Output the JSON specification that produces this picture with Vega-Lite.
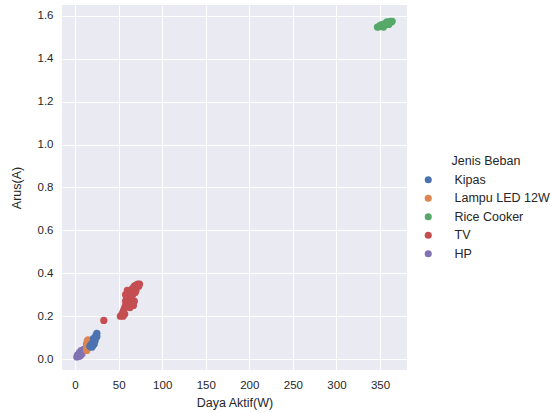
{
  "$schema": "https://vega.github.io/schema/vega-lite/v6.json",
  "width": 345,
  "height": 365,
  "autosize": "none",
  "padding": {"left": 62, "top": 5, "right": 144, "bottom": 43},
  "background": "white",
  "config": {
    "view": {"fill": "#EAEAF2", "stroke": null},
    "font": "Liberation Sans",
    "axis": {
      "domain": false, "ticks": false, "gridColor": "white", "gridWidth": 1,
      "labelColor": "#262626", "labelFontSize": 11.5, "titleColor": "#262626",
      "titleFontSize": 12.5, "titleFontWeight": "normal", "labelPadding": 9
    },
    "legend": {
      "titleFontSize": 12.5, "titleFontWeight": "normal", "titleColor": "#262626",
      "labelFontSize": 12.5, "labelColor": "#262626"
    }
  },
  "data": {"values": [
    {"w": 2, "a": 0.01, "k": "HP"}, {"w": 3, "a": 0.015, "k": "HP"}, {"w": 4, "a": 0.02, "k": "HP"},
    {"w": 5, "a": 0.02, "k": "HP"}, {"w": 6, "a": 0.025, "k": "HP"}, {"w": 7, "a": 0.03, "k": "HP"},
    {"w": 8, "a": 0.035, "k": "HP"}, {"w": 9, "a": 0.04, "k": "HP"}, {"w": 10, "a": 0.045, "k": "HP"},
    {"w": 3, "a": 0.02, "k": "HP"}, {"w": 5, "a": 0.03, "k": "HP"}, {"w": 6, "a": 0.015, "k": "HP"},
    {"w": 4, "a": 0.012, "k": "HP"}, {"w": 8, "a": 0.025, "k": "HP"}, {"w": 7, "a": 0.04, "k": "HP"},

    {"w": 13, "a": 0.05, "k": "Lampu LED 12W"}, {"w": 13.5, "a": 0.06, "k": "Lampu LED 12W"},
    {"w": 14, "a": 0.07, "k": "Lampu LED 12W"}, {"w": 14.5, "a": 0.08, "k": "Lampu LED 12W"},
    {"w": 15, "a": 0.09, "k": "Lampu LED 12W"}, {"w": 13, "a": 0.07, "k": "Lampu LED 12W"},
    {"w": 14, "a": 0.05, "k": "Lampu LED 12W"}, {"w": 15, "a": 0.06, "k": "Lampu LED 12W"},
    {"w": 14, "a": 0.085, "k": "Lampu LED 12W"}, {"w": 13.5, "a": 0.04, "k": "Lampu LED 12W"},
    {"w": 15.5, "a": 0.07, "k": "Lampu LED 12W"}, {"w": 14, "a": 0.06, "k": "Lampu LED 12W"},

    {"w": 17, "a": 0.06, "k": "Kipas"}, {"w": 18, "a": 0.065, "k": "Kipas"}, {"w": 19, "a": 0.07, "k": "Kipas"},
    {"w": 20, "a": 0.075, "k": "Kipas"}, {"w": 21, "a": 0.08, "k": "Kipas"}, {"w": 22, "a": 0.09, "k": "Kipas"},
    {"w": 23, "a": 0.1, "k": "Kipas"}, {"w": 24, "a": 0.11, "k": "Kipas"}, {"w": 25, "a": 0.12, "k": "Kipas"},
    {"w": 20, "a": 0.06, "k": "Kipas"}, {"w": 22, "a": 0.07, "k": "Kipas"}, {"w": 24, "a": 0.1, "k": "Kipas"},
    {"w": 21, "a": 0.095, "k": "Kipas"}, {"w": 23, "a": 0.085, "k": "Kipas"}, {"w": 19, "a": 0.055, "k": "Kipas"},
    {"w": 25, "a": 0.105, "k": "Kipas"},

    {"w": 347, "a": 1.548, "k": "Rice Cooker"}, {"w": 349, "a": 1.55, "k": "Rice Cooker"},
    {"w": 351, "a": 1.552, "k": "Rice Cooker"}, {"w": 353, "a": 1.555, "k": "Rice Cooker"},
    {"w": 355, "a": 1.558, "k": "Rice Cooker"}, {"w": 357, "a": 1.56, "k": "Rice Cooker"},
    {"w": 359, "a": 1.565, "k": "Rice Cooker"}, {"w": 361, "a": 1.568, "k": "Rice Cooker"},
    {"w": 363, "a": 1.572, "k": "Rice Cooker"}, {"w": 364, "a": 1.575, "k": "Rice Cooker"},
    {"w": 350, "a": 1.555, "k": "Rice Cooker"}, {"w": 354, "a": 1.548, "k": "Rice Cooker"},
    {"w": 356, "a": 1.565, "k": "Rice Cooker"}, {"w": 360, "a": 1.56, "k": "Rice Cooker"},
    {"w": 358, "a": 1.572, "k": "Rice Cooker"}, {"w": 352, "a": 1.56, "k": "Rice Cooker"},
    {"w": 362, "a": 1.575, "k": "Rice Cooker"},

    {"w": 33, "a": 0.18, "k": "TV"},
    {"w": 52, "a": 0.2, "k": "TV"}, {"w": 54, "a": 0.21, "k": "TV"}, {"w": 55, "a": 0.22, "k": "TV"},
    {"w": 56, "a": 0.23, "k": "TV"}, {"w": 57, "a": 0.24, "k": "TV"}, {"w": 58, "a": 0.25, "k": "TV"},
    {"w": 58, "a": 0.27, "k": "TV"}, {"w": 59, "a": 0.28, "k": "TV"}, {"w": 60, "a": 0.29, "k": "TV"},
    {"w": 61, "a": 0.3, "k": "TV"}, {"w": 62, "a": 0.3, "k": "TV"}, {"w": 63, "a": 0.31, "k": "TV"},
    {"w": 64, "a": 0.32, "k": "TV"}, {"w": 66, "a": 0.33, "k": "TV"}, {"w": 68, "a": 0.34, "k": "TV"},
    {"w": 70, "a": 0.345, "k": "TV"}, {"w": 72, "a": 0.35, "k": "TV"}, {"w": 74, "a": 0.35, "k": "TV"},
    {"w": 60, "a": 0.26, "k": "TV"}, {"w": 62, "a": 0.27, "k": "TV"}, {"w": 65, "a": 0.28, "k": "TV"},
    {"w": 68, "a": 0.27, "k": "TV"}, {"w": 66, "a": 0.3, "k": "TV"}, {"w": 70, "a": 0.32, "k": "TV"},
    {"w": 64, "a": 0.26, "k": "TV"}, {"w": 58, "a": 0.3, "k": "TV"}, {"w": 60, "a": 0.32, "k": "TV"},
    {"w": 57, "a": 0.21, "k": "TV"}, {"w": 55, "a": 0.2, "k": "TV"}, {"w": 73, "a": 0.34, "k": "TV"},
    {"w": 69, "a": 0.31, "k": "TV"}, {"w": 63, "a": 0.24, "k": "TV"}, {"w": 67, "a": 0.25, "k": "TV"}
  ]},
  "mark": {"type": "point", "filled": true, "opacity": 1, "size": 52},
  "encoding": {
    "x": {"field": "w", "type": "quantitative", "title": "Daya Aktif(W)",
      "scale": {"domain": [-15, 381], "nice": false, "zero": false},
      "axis": {"values": [0, 50, 100, 150, 200, 250, 300, 350], "titlePadding": 6}},
    "y": {"field": "a", "type": "quantitative", "title": "Arus(A)",
      "scale": {"domain": [-0.051, 1.651], "nice": false, "zero": false},
      "axis": {"values": [0, 0.2, 0.4, 0.6, 0.8, 1.0, 1.2, 1.4, 1.6], "format": ".1f", "titlePadding": 14}},
    "color": {"field": "k", "type": "nominal", "title": "Jenis Beban",
      "scale": {"domain": ["Kipas", "Lampu LED 12W", "Rice Cooker", "TV", "HP"],
        "range": ["#4C72B0", "#DD8452", "#55A868", "#C44E52", "#8172B3"]},
      "legend": {"orient": "none", "legendX": 360, "legendY": 150, "symbolSize": 50,
        "symbolOpacity": 1, "labelOffset": 20, "rowPadding": 5.5, "titlePadding": 6, "titleAnchor": "middle", "labelLimit": 200}}
  }
}
